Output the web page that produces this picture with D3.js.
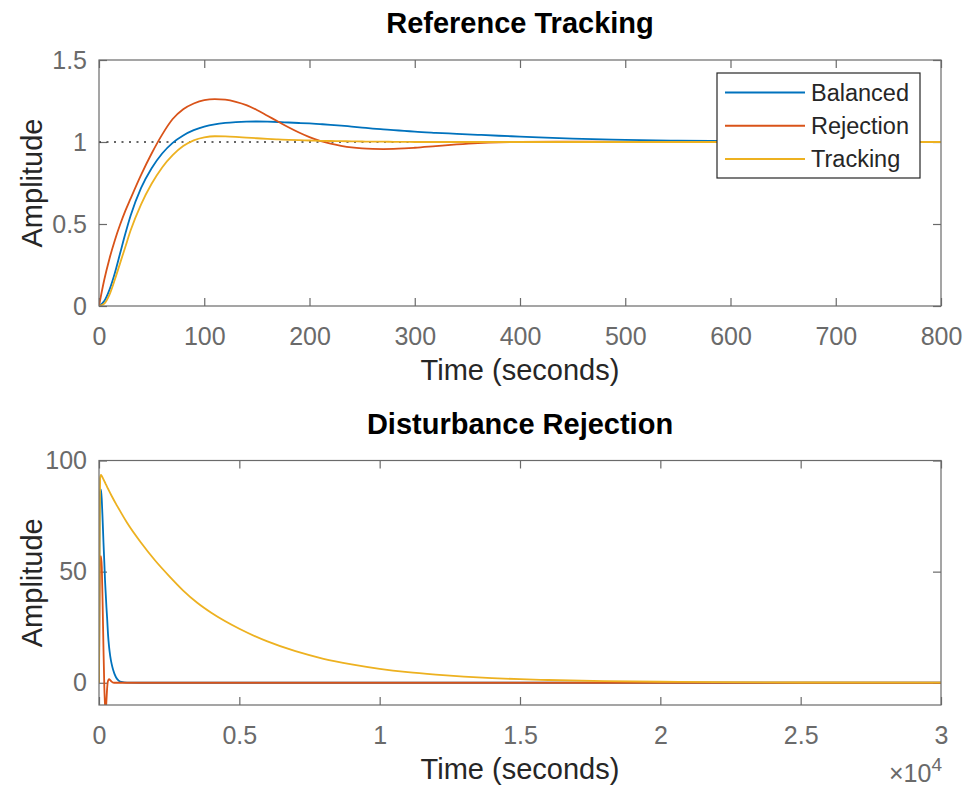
<!DOCTYPE html>
<html>
<head>
<meta charset="utf-8">
<script src="https://cdn.jsdelivr.net/npm/d3@7"></script>
<style>
  html, body { margin: 0; padding: 0; background: #fff; }
  svg { display: block; font-family: "Liberation Sans", Arial, Helvetica, sans-serif; }
</style>
</head>
<body>
<svg id="chart" width="965" height="789"></svg>
<script>
// ---------- DATA ----------
const seriesNames = ["Balanced", "Rejection", "Tracking"];
const seriesColors = ["#0072BD", "#D95319", "#EDB120"];

// Reference tracking (top)
const refTime = [0,5,10,15,20,25,30,40,50,60,70,80,90,100,110,120,130,140,150,160,170,180,190,200,210,220,230,240,250,260,270,280,290,300,320,340,360,380,400,450,500,550,600,700,800];
const refBalanced = [0,0.03,0.10,0.20,0.32,0.44,0.55,0.72,0.84,0.93,0.995,1.04,1.072,1.094,1.108,1.116,1.121,1.124,1.125,1.124,1.122,1.119,1.116,1.113,1.109,1.105,1.100,1.094,1.088,1.082,1.077,1.072,1.068,1.063,1.056,1.050,1.044,1.038,1.033,1.020,1.013,1.008,1.005,1.002,1.0];
const refRejection = [0,0.16,0.29,0.40,0.495,0.58,0.655,0.80,0.93,1.045,1.14,1.20,1.235,1.256,1.262,1.258,1.245,1.225,1.195,1.16,1.125,1.09,1.058,1.03,1.007,0.99,0.977,0.967,0.961,0.958,0.957,0.958,0.961,0.965,0.975,0.985,0.993,0.998,1.0,1.002,1.001,1.0,1.0,1.0,1.0];
const refTracking = [0,0.015,0.07,0.16,0.26,0.36,0.46,0.62,0.745,0.845,0.92,0.975,1.01,1.028,1.035,1.034,1.031,1.027,1.023,1.019,1.016,1.013,1.011,1.009,1.007,1.006,1.005,1.004,1.003,1.002,1.002,1.001,1.001,1.0,1.0,1.0,1.0,1.0,1.0,1.0,1.0,1.0,1.0,1.0,1.0];
const refLevel = [1, 1];
const refLevelTime = [0, 800];

// Disturbance rejection (bottom)
const distTime = [0,20,40,70,100,130,160,190,215,240,265,290,320,360,400,450,500,600,700,800,1000,1500,2000,2500,3000,3500,4000,5000,6000,7000,8000,9000,10000,11000,12000,13000,14000,15000,16000,18000,20000,22000,25000,30000];
const distBalanced = [0,72,86,87,82,73,63,54,46,40,34,29,22,16,12,8.5,6,2.6,1,0.35,0.05,0,0,0,0,0,0,0,0,0,0,0,0,0,0,0,0,0,0,0,0,0,0,0];
const distRejection = [0,40,56,57,52,35,15,-2,-10,-13,-8,-2.5,0.8,1.6,1.2,0.5,0.1,0,0,0,0,0,0,0,0,0,0,0,0,0,0,0,0,0,0,0,0,0,0,0,0,0,0,0];
const distTracking = [0,62,92,93.5,93,92.3,91.5,90.7,90.1,89.4,88.8,88.1,87.3,86.3,85.3,84.1,82.9,80.6,78.4,76.2,72,63,55,48,41.5,36,31.5,24.3,18.6,14.2,10.8,8.3,6.3,4.8,3.7,2.8,2.1,1.6,1.25,0.75,0.45,0.27,0.12,0.03];

// Tick labels
const refXTicks = [0,100,200,300,400,500,600,700,800];
const refYTicks = [0,0.5,1,1.5];
const distXTicks = [0,5000,10000,15000,20000,25000,30000];
const distXTickLabels = ["0","0.5","1","1.5","2","2.5","3"];
const distYTicks = [0,50,100];

// ---------- LAYOUT ----------
const svg = d3.select("#chart");
const axisColor = "#6a6a6a";
const labelColor = "#262626";
const left = 99, right = 941;

function drawPanel(cfg) {
  const x = d3.scaleLinear().domain(cfg.xDomain).range([left, right]);
  const y = d3.scaleLinear().domain(cfg.yDomain).range([cfg.bottom, cfg.top]);
  const g = svg.append("g");
  const clipId = "clip" + cfg.id;
  svg.append("clipPath").attr("id", clipId).append("rect")
    .attr("x", left).attr("y", cfg.top).attr("width", right - left).attr("height", cfg.bottom - cfg.top);

  const fmt = cfg.xLabels ? ((d, i) => cfg.xLabels[i]) : d3.format("");
  g.append("g").attr("transform", `translate(0,${cfg.bottom})`)
    .call(d3.axisBottom(x).tickValues(cfg.xTicks).tickFormat(fmt).tickSizeInner(-8).tickSizeOuter(0).tickPadding(21));
  g.append("g").attr("transform", `translate(0,${cfg.top})`)
    .call(d3.axisTop(x).tickValues(cfg.xTicks).tickFormat("").tickSizeInner(-8).tickSizeOuter(0));
  g.append("g").attr("transform", `translate(${left},0)`)
    .call(d3.axisLeft(y).tickValues(cfg.yTicks).tickFormat(d3.format("")).tickSizeInner(-8).tickSizeOuter(0).tickPadding(12));
  g.append("g").attr("transform", `translate(${right},0)`)
    .call(d3.axisRight(y).tickValues(cfg.yTicks).tickFormat("").tickSizeInner(-8).tickSizeOuter(0));
  g.selectAll(".domain").remove();
  g.selectAll(".tick line").attr("stroke", axisColor).attr("stroke-width", 1.2);
  g.selectAll(".tick text").attr("fill", axisColor).style("font-size", "25px")
    .style("font-family", '"Liberation Sans", Arial, sans-serif');

  const plot = g.append("g").attr("clip-path", `url(#${clipId})`);
  if (cfg.level) {
    plot.append("path")
      .datum(cfg.level.t.map((t, i) => [t, cfg.level.v[i]]))
      .attr("d", d3.line().x(d => x(d[0])).y(d => y(d[1])))
      .attr("fill", "none").attr("stroke", "#333").attr("stroke-width", 1.7)
      .attr("stroke-dasharray", "2,5.5");
  }
  const line = d3.line().x(d => x(d[0])).y(d => y(d[1])).curve(d3.curveMonotoneX);
  cfg.series.forEach((vals, k) => {
    plot.append("path")
      .datum(cfg.time.map((t, i) => [t, vals[i]]))
      .attr("d", line)
      .attr("fill", "none").attr("stroke", seriesColors[k]).attr("stroke-width", 1.8);
  });

  g.append("rect").attr("x", left).attr("y", cfg.top).attr("width", right - left).attr("height", cfg.bottom - cfg.top)
    .attr("fill", "none").attr("stroke", axisColor).attr("stroke-width", 1.2);

  svg.append("text").attr("x", (left + right) / 2).attr("y", cfg.top - 27)
    .attr("text-anchor", "middle").attr("font-weight", "bold").attr("font-size", 29).attr("fill", "#000")
    .text(cfg.title);
  svg.append("text").attr("x", (left + right) / 2).attr("y", cfg.bottom + 74)
    .attr("text-anchor", "middle").attr("font-size", 29).attr("fill", labelColor)
    .text("Time (seconds)");
  svg.append("text").attr("transform", `translate(42,${(cfg.top + cfg.bottom) / 2}) rotate(-90)`)
    .attr("text-anchor", "middle").attr("font-size", 29).attr("fill", labelColor)
    .text("Amplitude");
  return { x, y };
}

drawPanel({
  id: "top", top: 60, bottom: 306,
  xDomain: [0, 800], yDomain: [0, 1.5],
  xTicks: refXTicks, yTicks: refYTicks,
  time: refTime, series: [refBalanced, refRejection, refTracking],
  level: { t: refLevelTime, v: refLevel },
  title: "Reference Tracking"
});

drawPanel({
  id: "bot", top: 460.5, bottom: 705,
  xDomain: [0, 30000], yDomain: [-10, 100],
  xTicks: distXTicks, xLabels: distXTickLabels, yTicks: distYTicks,
  time: distTime, series: [distBalanced, distRejection, distTracking],
  title: "Disturbance Rejection"
});

// exponent label
const ex = svg.append("text").attr("x", 942).attr("y", 782).attr("text-anchor", "end")
  .attr("font-size", 25).attr("fill", axisColor);
ex.append("tspan").text("\u00d710");
ex.append("tspan").attr("dy", -11).attr("font-size", 19).text("4");

// legend
const lg = svg.append("g");
lg.append("rect").attr("x", 717).attr("y", 73).attr("width", 203).attr("height", 105)
  .attr("fill", "#fff").attr("stroke", labelColor).attr("stroke-width", 1.2);
seriesNames.forEach((name, i) => {
  const yy = 92.5 + i * 33.3;
  lg.append("line").attr("x1", 725).attr("x2", 805).attr("y1", yy).attr("y2", yy)
    .attr("stroke", seriesColors[i]).attr("stroke-width", 2);
  lg.append("text").attr("x", 811).attr("y", yy + 8).attr("font-size", 23.5).attr("fill", labelColor).text(name);
});
</script>
</body>
</html>
